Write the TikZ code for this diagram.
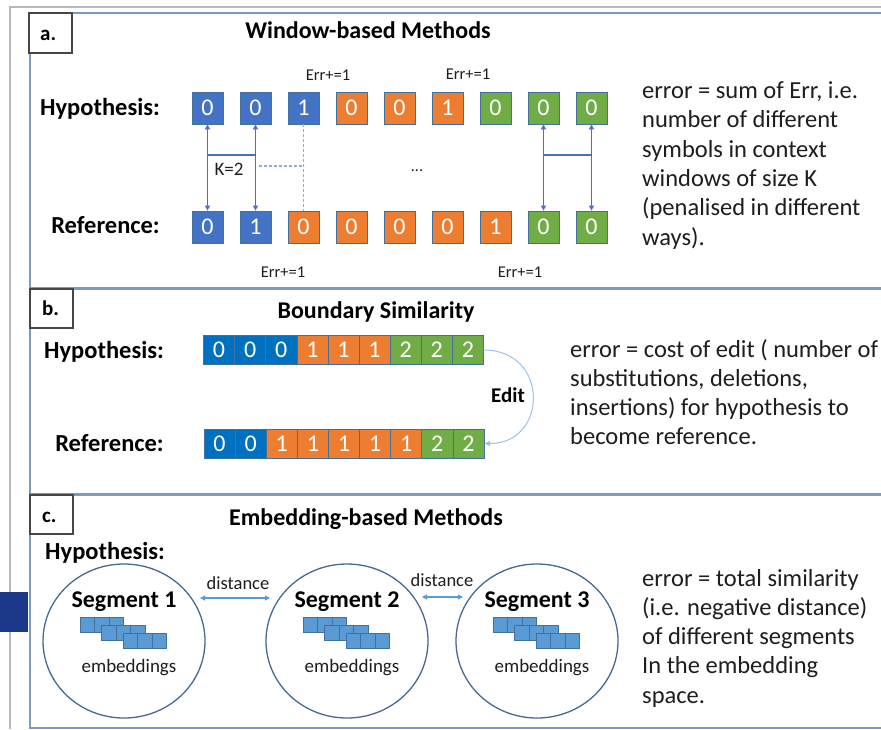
\documentclass[tikz,border=0pt]{standalone}
\usepackage{fontspec}
\setmainfont{Carlito}
\usetikzlibrary{arrows.meta,shapes.geometric}
\definecolor{cblue}{HTML}{4472C4}
\definecolor{corange}{HTML}{ED7D31}
\definecolor{cgreen}{HTML}{70AD47}
\definecolor{bblue}{HTML}{0070C0}
\definecolor{cellline}{HTML}{41719C}
\definecolor{panelline}{RGB}{125,155,192}
\definecolor{outerline}{RGB}{185,185,185}
\definecolor{labelline}{RGB}{70,70,70}
\definecolor{embfill}{HTML}{5B9BD5}
\definecolor{embline}{HTML}{41719C}
\definecolor{ringline}{RGB}{70,105,145}
\definecolor{editline}{HTML}{9DC3E6}
\definecolor{navy}{RGB}{28,56,138}
\definecolor{txt}{RGB}{30,30,30}
\newcommand{\fsz}[2]{\fontsize{#1}{#2}\selectfont}
\begin{document}
\begin{tikzpicture}[x=1pt,y=-1pt,
  acell/.style={minimum width=31pt, minimum height=32pt, inner sep=0pt, draw=cellline, line width=0.8pt, text=white, font=\fsz{24}{29}},
  bcell/.style={minimum width=31.1pt, minimum height=29pt, inner sep=0pt, draw=cellline, line width=0.6pt, text=white, font=\fsz{24}{29}},
  rowlabel/.style={anchor=base east, inner sep=0pt, font=\bfseries\fsz{24.5}{29}},
  hyplabel/.style={anchor=base west, inner sep=0pt, font=\bfseries\fsz{24.5}{29}},
  paneltitle/.style={anchor=base, inner sep=0pt, font=\bfseries\fsz{24}{29}},
  panel/.style={draw=panelline, line width=1.4pt},
  tagbox/.style={draw=labelline, fill=white, line width=1.2pt},
  tag/.style={anchor=base west, inner sep=0pt, font=\bfseries\fsz{21}{25}},
  body/.style={anchor=base west, inner sep=0pt, font=\fsz{24.5}{29}, text=txt},
  errlabel/.style={anchor=base, inner sep=0pt, font=\fsz{16.5}{20}, text=txt},
  warr/.style={draw=cblue, line width=1.2pt, {Triangle[length=5pt,width=5pt]}-{Triangle[length=5pt,width=5pt]}},
  wline/.style={draw=cblue, line width=1.1pt},
  wdash/.style={draw=cblue!60, line width=1.1pt, dash pattern=on 3pt off 2pt},
  ring/.style={ellipse, draw=ringline, line width=1.3pt, minimum width=162pt, minimum height=154pt, inner sep=0pt},
  seglabel/.style={anchor=base, inner sep=0pt, font=\bfseries\fsz{24}{29}},
  emblabel/.style={anchor=base, inner sep=0pt, font=\fsz{19}{23}, text=txt},
  emb/.style={fill=embfill, draw=embline, line width=0.8pt},
  darr/.style={draw=embfill, line width=1.2pt, {Triangle[length=5pt,width=5pt]}-{Triangle[length=5pt,width=5pt]}},
  distlabel/.style={anchor=base, inner sep=0pt, font=\fsz{18.5}{22}, text=txt},
  editarr/.style={draw=editline, line width=1pt, -{Triangle[length=6pt,width=5pt]}}
]
\clip (0,0) rectangle (881,729);
\fill[white] (0,0) rectangle (881,729);

% outer frame and side marker
\draw[outerline, line width=1.5pt] (10,729) -- (10,7) -- (881,7);
\fill[navy] (0,592) rectangle (28,632);

% panel frames
\draw[panel] (30,13) rectangle (900,288);
\draw[panel] (30,289) rectangle (900,494);
\draw[panel] (30,495) rectangle (900,728);

% panel tags
\draw[tagbox] (29,13) rectangle (72,53);
\node[tag] (taga) at (40,40) {a.};
\draw[tagbox] (30,289) rectangle (73,328);
\node[tag] (tagb) at (42,315) {b.};
\draw[tagbox] (30,495) rectangle (73,534);
\node[tag] (tagc) at (42,522) {c.};

% ---------- a. Window-based Methods ----------
\node[paneltitle] (titlea) at (368,38) {Window-based Methods};
\node[rowlabel] (hypa) at (160,115.5) {Hypothesis:};
\node[rowlabel] (refa) at (160,233) {Reference:};

\foreach \c/\v [count=\i] in {cblue/0,cblue/0,cblue/1,corange/0,corange/0,corange/1,cgreen/0,cgreen/0,cgreen/0}
  \node[acell, fill=\c] (h\i) at ({207.5+48*(\i-1)},108) {\v};
\foreach \c/\v [count=\i] in {cblue/0,cblue/1,corange/0,corange/0,corange/0,corange/0,corange/1,cgreen/0,cgreen/0}
  \node[acell, fill=\c] (r\i) at ({207.5+48*(\i-1)},227) {\v};

\coordinate (kline) at (0,155);
\coordinate (kdash) at (0,166);
\draw[warr] (h1.south) -- (r1.north);
\draw[warr] (h2.south) -- (r2.north);
\draw[wline] (h1.south |- kline) -- (h2.south |- kline);
\draw[wdash] (h3.south) -- (r3.north);
\draw[wdash] ([xshift=3pt]h2.south |- kdash) -- (h3.south |- kdash);
\node[anchor=base, inner sep=0pt, font=\fsz{19}{23}, text=txt] (k2) at (229,175) {K=2};
\node[anchor=base, inner sep=0pt, font=\fsz{16}{20}, text=txt] (dots) at (417,171) {...};

\draw[warr] (h8.south) -- (r8.north);
\draw[warr] (h9.south) -- (r9.north);
\draw[wline] (h8.south |- kline) -- (h9.south |- kline);

\node[errlabel] (erra1) at (328,80) {Err+=1};
\node[errlabel] (erra2) at (468,79) {Err+=1};
\node[errlabel] (erra3) at (283,277) {Err+=1};
\node[errlabel] (erra4) at (520,277) {Err+=1};

\foreach \t [count=\i] in {{error = sum of Err, i.e.},{number of different},{symbols in context},{windows of size K},{(penalised in different},{ways).}}
  \node[body] (ta\i) at (642,{98.5+29.3*(\i-1)}) {\t};

% ---------- b. Boundary Similarity ----------
\node[paneltitle] (titleb) at (376,318) {Boundary Similarity};
\node[rowlabel] (hypb) at (164,358) {Hypothesis:};
\node[rowlabel] (refb) at (164,451) {Reference:};

\foreach \c/\v [count=\i] in {bblue/0,bblue/0,bblue/0,corange/1,corange/1,corange/1,cgreen/2,cgreen/2,cgreen/2}
  \node[bcell, fill=\c] (hb\i) at ({219.05+31.1*(\i-1)},350) {\v};
\foreach \c/\v [count=\i] in {bblue/0,bblue/0,corange/1,corange/1,corange/1,corange/1,corange/1,cgreen/2,cgreen/2}
  \node[bcell, fill=\c] (rb\i) at ({219.55+31.1*(\i-1)},443.5) {\v};

\draw[editarr] (hb9.east) .. controls +(66,0) and +(64,0) .. (rb9.east);
\node[anchor=base, inner sep=0pt, font=\bfseries\fsz{21}{25}] (edit) at (508,402) {Edit};

\foreach \t [count=\i] in {{error = cost of edit ( number of},{substitutions, deletions,},{insertions) for hypothesis to},{become reference.}}
  \node[body] (tb\i) at (570,{357+29.2*(\i-1)}) {\t};

% ---------- c. Embedding-based Methods ----------
\node[paneltitle] (titlec) at (366,525) {Embedding-based Methods};
\node[hyplabel] (hypc) at (45,559) {Hypothesis:};

\foreach \cx [count=\i] in {124,347,537} {
  \node[ring] (s\i) at (\cx,641) {};
  \node[seglabel] (sl\i) at (\cx,607) {Segment \i};
  \foreach \r in {0,1,2}
    \foreach \k in {0,1,2}
      \draw[emb] ({\cx-44+21.5*\r+14.5*\k},{617+8*\r}) rectangle ++(14.5,15);
  \node[emblabel] (el\i) at ({\cx+5},672) {embeddings};
}

\coordinate (d1a) at (200,598);
\coordinate (d1b) at (270,598);
\coordinate (d2a) at (422,597);
\coordinate (d2b) at (463,597);
\draw[darr] (d1a) -- (d1b);
\draw[darr] (d2a) -- (d2b);
\node[distlabel] (dl1) at (238,589) {distance};
\node[distlabel] (dl2) at (442,586) {distance};

\foreach \t [count=\i] in {{error = total similarity},{(i.e. negative distance)},{of different segments},{In the embedding},{space.}}
  \node[body] (tc\i) at (642,{586+29.3*(\i-1)}) {\t};
\end{tikzpicture}
\end{document}
